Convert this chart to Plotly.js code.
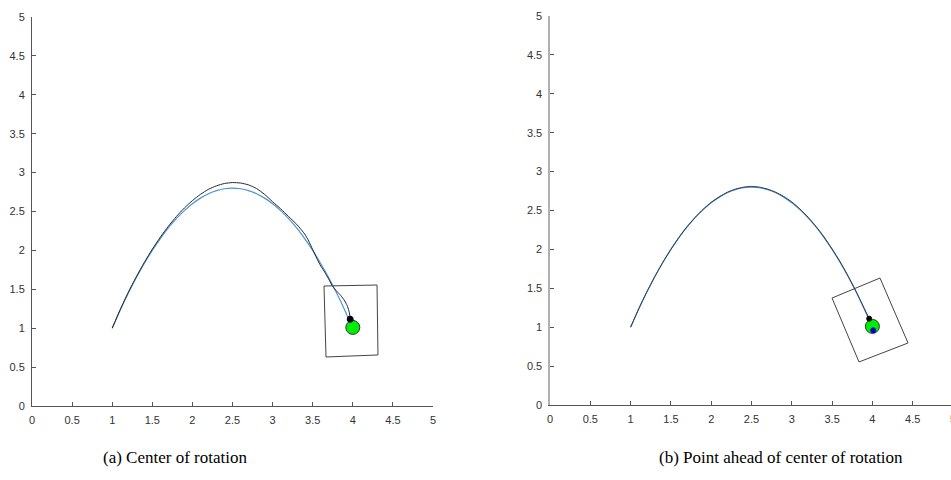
<!DOCTYPE html>
<html>
<head>
<meta charset="utf-8">
<script src="https://cdn.plot.ly/plotly-3.0.1.min.js"></script>
<style>
html,body{margin:0;padding:0;overflow:hidden;background:#fff;}
#chart{width:960px;height:480px;}
</style>
</head>
<body>
<div id="chart"></div>
<script>
// Reference path (blue)
const refX = [1.0,1.1,1.2,1.3,1.4,1.5,1.6,1.7,1.8,1.9,2.0,2.1,2.2,2.3,2.4,2.5,2.6,2.7,2.8,2.9,3.0,3.1,3.2,3.3,3.4,3.5,3.6,3.7,3.8,3.9,4.0];
const refY = [1.0,1.232,1.448,1.648,1.832,2.0,2.152,2.288,2.408,2.512,2.6,2.672,2.728,2.768,2.792,2.8,2.792,2.768,2.728,2.672,2.6,2.512,2.408,2.288,2.152,2.0,1.832,1.648,1.448,1.232,1.0];

// (a) Center of rotation: driven path (black)
const pathAX = [1.0,1.1,1.2,1.3,1.4,1.5,1.6,1.7,1.8,1.9,2.0,2.1,2.2,2.3,2.4,2.5,2.6,2.7,2.8,2.9,3.0,3.1,3.2,3.3,3.342,3.4,3.45,3.5,3.55,3.6,3.65,3.7,3.75,3.8,3.85,3.9,3.93,3.95,3.962,3.965];
const pathAY = [1.0,1.24,1.46,1.66,1.845,2.015,2.17,2.31,2.435,2.545,2.64,2.72,2.785,2.83,2.86,2.872,2.866,2.842,2.795,2.72,2.625,2.535,2.435,2.335,2.285,2.21,2.12,2.01,1.90,1.80,1.72,1.63,1.535,1.475,1.42,1.35,1.29,1.23,1.17,1.12];

// (b) Point ahead of center of rotation: driven path (black)
const pathBX = [1.0,1.1,1.2,1.3,1.4,1.5,1.6,1.7,1.8,1.9,2.0,2.1,2.2,2.3,2.4,2.5,2.6,2.7,2.8,2.9,3.0,3.1,3.2,3.3,3.4,3.5,3.6,3.7,3.8,3.9,3.96];
const pathBY = [1.0,1.235,1.45,1.65,1.835,2.0,2.155,2.29,2.41,2.515,2.605,2.675,2.735,2.775,2.80,2.81,2.80,2.775,2.735,2.68,2.61,2.52,2.415,2.295,2.16,2.005,1.84,1.655,1.455,1.24,1.11];

// Robot body outlines (closed)
const bodyAX = [3.641,4.302,4.314,3.666,3.641];
const bodyAY = [1.542,1.555,0.656,0.630,1.542];
const bodyBX = [3.499,4.094,4.442,3.834,3.499];
const bodyBY = [1.375,1.632,0.797,0.553,1.375];

// Goal (green), robot point (black), tracked point (blue)
const goalA = [4.0, 1.01];
const robotA = [3.965, 1.12];
const trackA = [3.968, 1.115];
const goalB = [4.0, 1.01];
const robotB = [3.96, 1.11];
const trackB = [4.01, 0.96];

const ticks = [0,0.5,1,1.5,2,2.5,3,3.5,4,4.5,5];
const tickText = ['0','0.5','1','1.5','2','2.5','3','3.5','4','4.5','5'];

const blue = '#4a97d4';
const dark = '#262626';

function pts(p, color, size, xa, ya, line) {
  return {x:[p[0]], y:[p[1]], mode:'markers', xaxis:xa, yaxis:ya, hoverinfo:'skip',
    marker:{color:color, size:size, line:{color:line||color, width:1}}};
}

const data = [
  {x:refX, y:refY, mode:'lines', xaxis:'x', yaxis:'y', line:{color:blue, width:1.2, shape:'spline', smoothing:0.6}},
  {x:pathAX, y:pathAY, mode:'lines', xaxis:'x', yaxis:'y', line:{color:dark, width:1, shape:'spline', smoothing:0.6}},
  {x:bodyAX, y:bodyAY, mode:'lines', xaxis:'x', yaxis:'y', line:{color:'#444', width:1}},
  pts(goalA, '#00ee00', 14, 'x', 'y', '#333'),
  pts(trackA, '#000080', 6, 'x', 'y'),
  pts(robotA, '#000000', 5, 'x', 'y'),

  {x:refX, y:refY, mode:'lines', xaxis:'x2', yaxis:'y2', line:{color:blue, width:1.2, shape:'spline', smoothing:0.6}},
  {x:pathBX, y:pathBY, mode:'lines', xaxis:'x2', yaxis:'y2', line:{color:'#333a44', width:1, shape:'spline', smoothing:0.6}},
  {x:bodyBX, y:bodyBY, mode:'lines', xaxis:'x2', yaxis:'y2', line:{color:'#444', width:1}},
  pts(goalB, '#00ee00', 14, 'x2', 'y2', '#333'),
  pts(robotB, '#000000', 5, 'x2', 'y2'),
  pts(trackB, '#0000cc', 5, 'x2', 'y2'),
];

function ax(domain, lineColor, lineWidth) {
  return {domain:domain, range:[0,5], autorange:false, tickmode:'array', tickvals:ticks, ticktext:tickText,
    showline:true, linecolor:lineColor, linewidth:lineWidth, ticks:'inside', ticklen:4, tickcolor:'#555',
    ticklabelstandoff:4,
    showgrid:false, zeroline:false, automargin:false, fixedrange:true,
    tickfont:{family:'Liberation Sans, Arial, sans-serif', size:11, color:'#333'}};
}

const layout = {
  width:960, height:480, showlegend:false,
  margin:{l:0,r:0,t:0,b:0}, paper_bgcolor:'#fff', plot_bgcolor:'#fff',
  xaxis: Object.assign(ax([32/960, 433/960], '#555', 1), {anchor:'y'}),
  yaxis: Object.assign(ax([74/480, 463/480], '#555', 1), {anchor:'x'}),
  xaxis2: Object.assign(ax([550/960, 953/960], '#555', 1), {anchor:'y2'}),
  yaxis2: Object.assign(ax([75/480, 464/480], '#b0b0b0', 1.6), {anchor:'x2'}),
  annotations:[
    {text:'(a) Center of rotation', xref:'paper', yref:'paper', x:175/960, y:(480-457)/480,
     showarrow:false, xanchor:'center', yanchor:'middle', font:{family:'Liberation Serif, Times New Roman, serif', size:17, color:'#000'}},
    {text:'(b) Point ahead of center of rotation', xref:'paper', yref:'paper', x:781/960, y:(480-457)/480,
     showarrow:false, xanchor:'center', yanchor:'middle', font:{family:'Liberation Serif, Times New Roman, serif', size:17, color:'#000'}}
  ]
};

Plotly.newPlot('chart', data, layout, {displayModeBar:false, staticPlot:true});
</script>
</body>
</html>
